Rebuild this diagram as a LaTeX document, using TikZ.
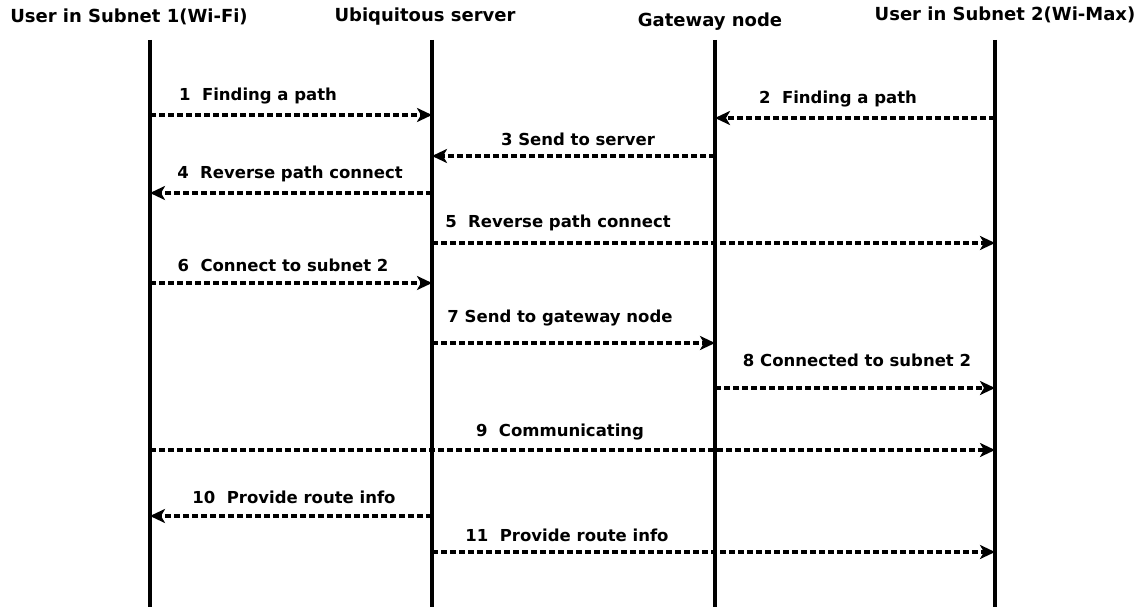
\documentclass[tikz,border=0pt]{standalone}
\usepackage{fontspec}
\setmainfont{DejaVu Sans}
\usetikzlibrary{arrows.meta}
\tikzset{
  lifeline/.style={line width=4.5pt},
  msg/.style={line width=3.5pt, dash pattern=on 6pt off 3pt, -{Stealth[length=15pt,width=14pt,inset=4pt]}},
  head/.style={font=\fontsize{18}{20}\selectfont\bfseries, inner sep=0pt},
  lbl/.style={font=\fontsize{16.5}{18}\selectfont\bfseries, inner sep=0pt}
}
\begin{document}
\begin{tikzpicture}[x=1pt,y=-1pt]
\useasboundingbox (0,0) rectangle (1146,607);
% headers
\node[head] (h1) at (129,17) {User in Subnet 1(Wi-Fi)};
\node[head] (h2) at (425,17) {Ubiquitous server};
\node[head] (h3) at (710,22) {Gateway node};
\node[head] (h4) at (1005,15) {User in Subnet 2(Wi-Max)};
% lifelines
\coordinate (t1) at (150,40); \coordinate (b1) at (150,607);
\coordinate (t2) at (432,40); \coordinate (b2) at (432,607);
\coordinate (t3) at (715,40); \coordinate (b3) at (715,607);
\coordinate (t4) at (995,40); \coordinate (b4) at (995,607);
\foreach \i in {1,2,3,4} \draw[lifeline] (t\i) -- (b\i);
% message endpoints
\coordinate (a1) at (150,115); \coordinate (e1) at (432,115);
\coordinate (a2) at (995,118); \coordinate (e2) at (715,118);
\coordinate (a3) at (715,156); \coordinate (e3) at (432,156);
\coordinate (a4) at (432,193); \coordinate (e4) at (150,193);
\coordinate (a5) at (432,243); \coordinate (e5) at (995,243);
\coordinate (a6) at (150,283); \coordinate (e6) at (432,283);
\coordinate (a7) at (432,343); \coordinate (e7) at (715,343);
\coordinate (a8) at (715,388); \coordinate (e8) at (995,388);
\coordinate (a9) at (150,450); \coordinate (e9) at (995,450);
\coordinate (a10) at (432,516); \coordinate (e10) at (150,516);
\coordinate (a11) at (432,552); \coordinate (e11) at (995,552);
\foreach \i in {1,...,11} \draw[msg] (a\i) -- (e\i);
% labels
\node[lbl] (l1) at (258,96) {1\ \ Finding a path};
\node[lbl] (l2) at (838,99) {2\ \ Finding a path};
\node[lbl] (l3) at (578,139) {3 Send to server};
\node[lbl] (l4) at (290,174) {4\ \ Reverse path connect};
\node[lbl] (l5) at (558,223) {5\ \ Reverse path connect};
\node[lbl] (l6) at (283,265) {6\ \ Connect to subnet 2};
\node[lbl] (l7) at (560,318) {7 Send to gateway node};
\node[lbl] (l8) at (857,360) {8 Connected to subnet 2};
\node[lbl] (l9) at (560,432) {9\ \ Communicating};
\node[lbl] (l10) at (294,497) {10\ \ Provide route info};
\node[lbl] (l11) at (567,535) {11\ \ Provide route info};
\end{tikzpicture}
\end{document}
